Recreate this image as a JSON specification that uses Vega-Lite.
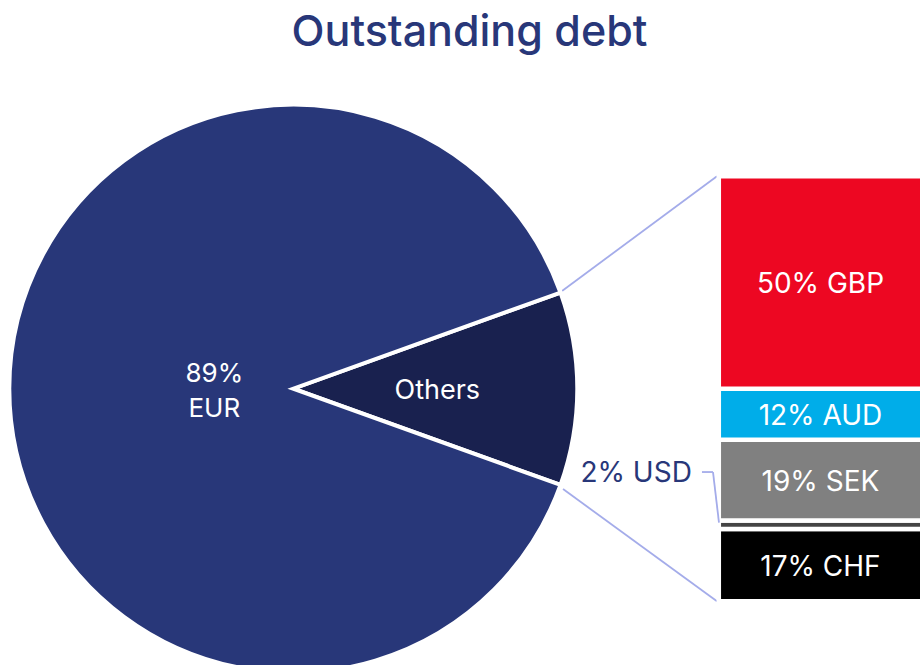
{
  "$schema": "https://vega.github.io/schema/vega-lite/v6.json",
  "width": 920,
  "height": 665,
  "autosize": {"type": "none"},
  "padding": 0,
  "background": "white",
  "config": {"view": {"stroke": null}, "text": {"font": "Inter"}},
  "datasets": {
    "pie": [
      {"name": "Others", "share": 11, "rank": 1, "label": "Others"},
      {"name": "EUR", "share": 89, "rank": 2, "label": "89%\nEUR"}
    ],
    "others": [
      {"name": "CHF", "share": 17, "rank": 1, "label": "17% CHF"},
      {"name": "USD", "share": 2, "rank": 2, "label": "2% USD"},
      {"name": "SEK", "share": 19, "rank": 3, "label": "19% SEK"},
      {"name": "AUD", "share": 12, "rank": 4, "label": "12% AUD"},
      {"name": "GBP", "share": 50, "rank": 5, "label": "50% GBP"}
    ],
    "title": [{"text": "Outstanding debt"}]
  },
  "layer": [
    {
      "data": {"values": [{}]},
      "mark": {"type": "rule", "color": "#a4acea", "strokeWidth": 1.8},
      "encoding": {
        "x": {"datum": 61.09, "type": "quantitative", "scale": {"domain": [0, 100], "nice": false, "zero": false}, "axis": null},
        "y": {"datum": 73.0, "type": "quantitative", "scale": {"domain": [-15.0, 141.46], "nice": false, "zero": false}, "axis": null},
        "x2": {"datum": 77.93},
        "y2": {"datum": 100}
      }
    },
    {
      "data": {"values": [{}]},
      "mark": {"type": "rule", "color": "#a4acea", "strokeWidth": 1.8},
      "encoding": {
        "x": {"datum": 61.2, "type": "quantitative", "scale": {"domain": [0, 100], "nice": false, "zero": false}, "axis": null},
        "y": {"datum": 26.4, "type": "quantitative", "scale": {"domain": [-15.0, 141.46], "nice": false, "zero": false}, "axis": null},
        "x2": {"datum": 77.93},
        "y2": {"datum": 0}
      }
    },
    {
      "data": {"name": "pie"},
      "mark": {"type": "arc", "outerRadius": 284, "stroke": "white", "strokeWidth": 4},
      "encoding": {
        "x": {"datum": 31.88, "type": "quantitative", "scale": {"domain": [0, 100], "nice": false, "zero": false}, "axis": null},
        "y": {"datum": 50, "type": "quantitative", "scale": {"domain": [-15.0, 141.46], "nice": false, "zero": false}, "axis": null},
        "theta": {"field": "share", "type": "quantitative", "stack": true, "scale": {"range": [1.2252, 7.5084]}},
        "order": {"field": "rank", "type": "quantitative"},
        "color": {"field": "name", "type": "nominal", "legend": null,
          "scale": {"domain": ["EUR", "Others", "GBP", "AUD", "SEK", "USD", "CHF"],
                    "range": ["#283779", "#19214f", "#ed0722", "#00ade9", "#808080", "#444444", "#000000"]}}
      }
    },
    {
      "data": {"name": "pie"},
      "transform": [
        {"stack": "share", "sort": [{"field": "rank"}], "groupby": [], "as": ["t0", "t1"]},
        {"calculate": "(datum.t0 + datum.t1) / 2", "as": "tmid"},
        {"filter": "datum.name === 'EUR'"}
      ],
      "mark": {"type": "text", "radius": 79, "dy": -15, "color": "white", "fontSize": 26, "lineBreak": "\n", "lineHeight": 35, "align": "center", "baseline": "middle"},
      "encoding": {
        "x": {"datum": 31.88, "type": "quantitative", "scale": {"domain": [0, 100], "nice": false, "zero": false}, "axis": null},
        "y": {"datum": 50, "type": "quantitative", "scale": {"domain": [-15.0, 141.46], "nice": false, "zero": false}, "axis": null},
        "theta": {"field": "tmid", "type": "quantitative", "stack": null, "scale": {"domain": [0, 100], "range": [1.2252, 7.5084]}},
        "text": {"field": "label", "type": "nominal"}
      }
    },
    {
      "data": {"name": "pie"},
      "transform": [
        {"stack": "share", "sort": [{"field": "rank"}], "groupby": [], "as": ["t0", "t1"]},
        {"calculate": "(datum.t0 + datum.t1) / 2", "as": "tmid"},
        {"filter": "datum.name === 'Others'"}
      ],
      "mark": {"type": "text", "radius": 144, "dy": 2, "color": "white", "fontSize": 27, "align": "center", "baseline": "middle"},
      "encoding": {
        "x": {"datum": 31.88, "type": "quantitative", "scale": {"domain": [0, 100], "nice": false, "zero": false}, "axis": null},
        "y": {"datum": 50, "type": "quantitative", "scale": {"domain": [-15.0, 141.46], "nice": false, "zero": false}, "axis": null},
        "theta": {"field": "tmid", "type": "quantitative", "stack": null, "scale": {"domain": [0, 100], "range": [1.2252, 7.5084]}},
        "text": {"field": "label", "type": "nominal"}
      }
    },
    {
      "data": {"name": "others"},
      "transform": [
        {"stack": "share", "sort": [{"field": "rank"}], "groupby": [], "as": ["y0", "y1"]}
      ],
      "mark": {"type": "rect", "stroke": "white", "strokeWidth": 4.5},
      "encoding": {
        "x": {"datum": 78.13, "type": "quantitative", "scale": {"domain": [0, 100], "nice": false, "zero": false}, "axis": null},
        "x2": {"datum": 100.5},
        "y": {"field": "y0", "type": "quantitative", "scale": {"domain": [-15.0, 141.46], "nice": false, "zero": false}, "axis": null},
        "y2": {"field": "y1"},
        "color": {"field": "name", "type": "nominal", "legend": null,
          "scale": {"domain": ["EUR", "Others", "GBP", "AUD", "SEK", "USD", "CHF"],
                    "range": ["#283779", "#19214f", "#ed0722", "#00ade9", "#808080", "#444444", "#000000"]}}
      }
    },
    {
      "data": {"name": "others"},
      "transform": [
        {"stack": "share", "sort": [{"field": "rank"}], "groupby": [], "as": ["y0", "y1"]},
        {"calculate": "(datum.y0 + datum.y1) / 2", "as": "ymid"},
        {"filter": "datum.name !== 'USD'"}
      ],
      "mark": {"type": "text", "dy": 3, "color": "white", "fontSize": 28, "align": "center", "baseline": "middle"},
      "encoding": {
        "x": {"datum": 89.18, "type": "quantitative", "scale": {"domain": [0, 100], "nice": false, "zero": false}, "axis": null},
        "y": {"field": "ymid", "type": "quantitative", "scale": {"domain": [-15.0, 141.46], "nice": false, "zero": false}, "axis": null},
        "text": {"field": "label", "type": "nominal"}
      }
    },
    {
      "data": {"name": "others"},
      "transform": [{"filter": "datum.name === 'USD'"}],
      "mark": {"type": "text", "dy": 2, "color": "#283779", "fontSize": 28, "align": "right", "baseline": "middle"},
      "encoding": {
        "x": {"datum": 75.2, "type": "quantitative", "scale": {"domain": [0, 100], "nice": false, "zero": false}, "axis": null},
        "y": {"datum": 30.4, "type": "quantitative", "scale": {"domain": [-15.0, 141.46], "nice": false, "zero": false}, "axis": null},
        "text": {"field": "label", "type": "nominal"}
      }
    },
    {
      "data": {"values": [{}]},
      "mark": {"type": "rule", "color": "#a4acea", "strokeWidth": 1.8},
      "encoding": {
        "x": {"datum": 76.3, "type": "quantitative", "scale": {"domain": [0, 100], "nice": false, "zero": false}, "axis": null},
        "y": {"datum": 30.4, "type": "quantitative", "scale": {"domain": [-15.0, 141.46], "nice": false, "zero": false}, "axis": null},
        "x2": {"datum": 77.5},
        "y2": {"datum": 30.4}
      }
    },
    {
      "data": {"values": [{}]},
      "mark": {"type": "rule", "color": "#a4acea", "strokeWidth": 1.8},
      "encoding": {
        "x": {"datum": 77.5, "type": "quantitative", "scale": {"domain": [0, 100], "nice": false, "zero": false}, "axis": null},
        "y": {"datum": 30.4, "type": "quantitative", "scale": {"domain": [-15.0, 141.46], "nice": false, "zero": false}, "axis": null},
        "x2": {"datum": 78.15},
        "y2": {"datum": 18.5}
      }
    },
    {
      "data": {"name": "title"},
      "mark": {"type": "text", "color": "#283779", "fontSize": 43, "fontWeight": 500, "align": "center", "baseline": "middle"},
      "encoding": {
        "x": {"datum": 51.03, "type": "quantitative", "scale": {"domain": [0, 100], "nice": false, "zero": false}, "axis": null},
        "y": {"datum": 133.6, "type": "quantitative", "scale": {"domain": [-15.0, 141.46], "nice": false, "zero": false}, "axis": null},
        "text": {"field": "text", "type": "nominal"}
      }
    }
  ]
}
